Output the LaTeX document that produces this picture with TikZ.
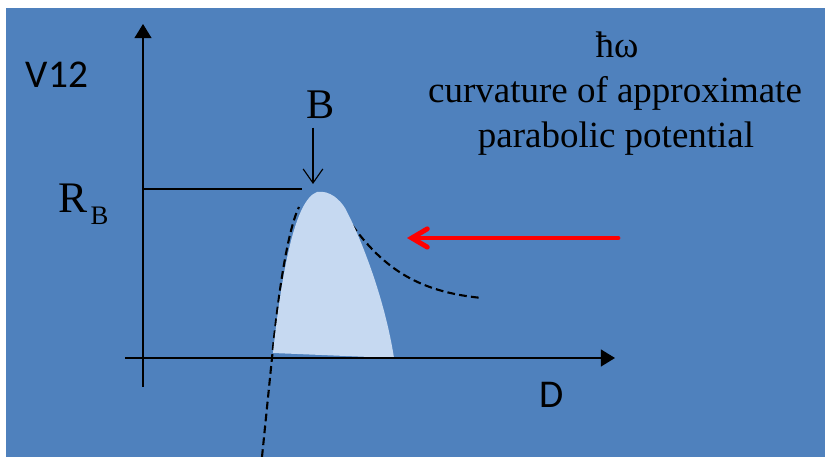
\documentclass[tikz,border=0pt]{standalone}
\usepackage{fontspec}
\setmainfont{Liberation Serif}
\newfontfamily\calibri{Carlito}
\usetikzlibrary{arrows.meta, positioning}
\definecolor{slideblue}{RGB}{79,129,189}
\definecolor{peakfill}{RGB}{198,217,241}

\begin{document}
\begin{tikzpicture}[
        x=0.025cm, y=-0.025cm,
        axis/.style={-{Triangle[length=10pt, width=12pt]}, line width=1pt, black},
        guide/.style={line width=1pt, black},
        dashcurve/.style={line width=1.5pt, black, dash pattern=on 5.5pt off 3pt},
        barrow/.style={-{Straight Barb[length=10pt, width=14pt]}, line width=0.8pt, black},
        incoming/.style={-{Straight Barb[length=11pt, width=13pt, line cap=round]}, line width=3.5pt, red, line cap=round},
        sanslabel/.style={font=\calibri\fontsize{28}{34}\selectfont, inner sep=0pt},
        seriflabel/.style={font=\fontsize{30}{36}\selectfont, inner sep=0pt},
        note/.style={font=\fontsize{26.3}{32}\selectfont, inner sep=0pt, anchor=base}
    ]
        % Background
        \fill[white] (0,0) rectangle (825,457);
        \fill[slideblue] (6,8) rectangle (825,457);
        \useasboundingbox (0,0) rectangle (825,457);

        % Coordinates
        \coordinate (yaxbot) at (143,387);
        \coordinate (yaxtop) at (143,24);
        \coordinate (xaxleft) at (125,358);
        \coordinate (xaxright) at (615,358);
        \coordinate (rbleft) at (143,189);
        \coordinate (rbright) at (302,189);
        \coordinate (peak) at (313,184);
        \coordinate (redstart) at (618,238);
        \coordinate (redend) at (407,238);

        % Curves
        \draw[dashcurve] (262,457) -- (272,358) .. controls (280,275) and (290,225) .. (299,207);
        \draw[dashcurve] (352,225) .. controls (385,270) and (420,292) .. (482,298);
        \fill[peakfill] (273,353) .. controls (282,270) and (295,200) .. (317,192)
            .. controls (330,190) and (340,200) .. (345,208)
            .. controls (362,240) and (385,300) .. (394,358) -- cycle;

        % Nodes
        \node[sanslabel] (v12) at (57,75) {V12};
        \node[sanslabel] (dlabel) at (552,395) {D};
        \node[seriflabel] (blabel) at (321,105) {B};
        \node[seriflabel, anchor=base west, font=\fontsize{31}{37}\selectfont] (rb) at (58,213) {R};
        \node[inner sep=0pt, anchor=base west, font=\fontsize{19}{23}\selectfont] (rbsub)
            at ([xshift=2pt, yshift=-8.5pt]rb.base east) {B};
        \node[note] (hbaromega) at (617,58) {ħω};
        \node[note] (curvtext) at (615,103) {curvature of approximate};
        \node[note] (paratext) at (616,148) {parabolic potential};

        % Arrows
        \draw[axis] (yaxbot) -- (yaxtop);
        \draw[axis] (xaxleft) -- (xaxright);
        \draw[guide] (rbleft) -- (rbright);
        \draw[barrow, shorten <=6pt] (blabel.south -| peak) -- (peak);
        \draw[incoming] (redstart) -- (redend);
\end{tikzpicture}
\end{document}
